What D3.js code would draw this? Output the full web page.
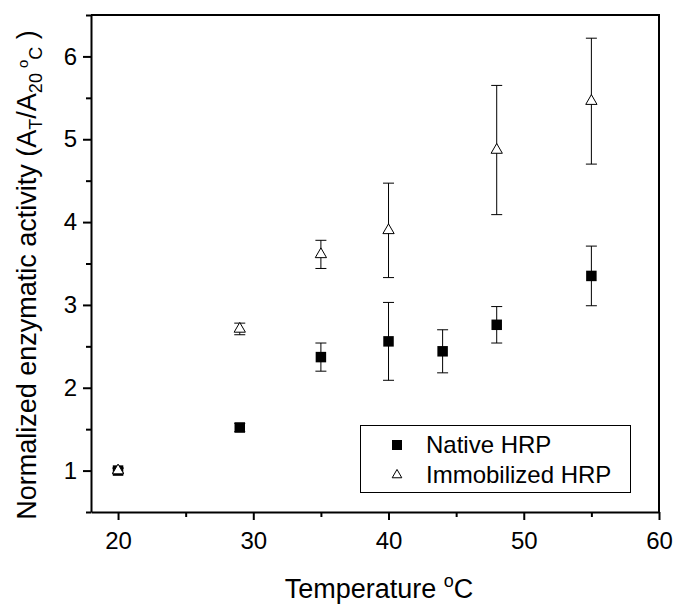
<!DOCTYPE html>
<html>
<head>
<meta charset="utf-8">
<script src="https://cdn.jsdelivr.net/npm/d3@7"></script>
<style>
  body { margin: 0; background: #fff; }
  svg text { font-family: Arial, "Liberation Sans", sans-serif; fill: #000; }
</style>
</head>
<body>
<div id="chart"></div>
<script>
// data
const nativeTemp = [20, 29, 35, 40, 44, 48, 55];
const nativeValue = [1.0, 1.52, 2.37, 2.56, 2.44, 2.76, 3.35];
const nativeErr = [0.03, 0.05, 0.17, 0.47, 0.26, 0.22, 0.36];

const immobTemp = [20, 29, 35, 40, 48, 55];
const immobValue = [1.0, 2.71, 3.61, 3.9, 4.87, 5.46];
const immobErr = [0.03, 0.07, 0.17, 0.57, 0.78, 0.76];

const xTicks = [20, 30, 40, 50, 60];
const xMinorTicks = [25, 35, 45, 55];
const yTicks = [1, 2, 3, 4, 5, 6];
const yMinorTicks = [0.5, 1.5, 2.5, 3.5, 4.5, 5.5, 6.5];

const width = 675, height = 606;
const margin = { left: 91, right: 16, top: 15, bottom: 94 };

const svg = d3.select("#chart").append("svg")
  .attr("width", width)
  .attr("height", height);

const x = d3.scaleLinear().domain([18, 60]).range([margin.left, width - margin.right]);
const y = d3.scaleLinear().domain([0.5, 6.5]).range([height - margin.bottom, margin.top]);

const x0 = x.range()[0], x1 = x.range()[1];
const y0 = y.range()[0], y1 = y.range()[1];

// top and right frame
svg.append("path")
  .attr("d", `M${x0},${y1}H${x1}V${y0}`)
  .attr("fill", "none")
  .attr("stroke", "#000")
  .attr("stroke-width", 2);

// x axis
const xAxisMinor = d3.axisBottom(x).tickValues(xMinorTicks).tickSize(5).tickSizeOuter(0).tickFormat("");
const xAxis = d3.axisBottom(x).tickValues(xTicks).tickSize(8).tickSizeOuter(0).tickPadding(12)
  .tickFormat(d3.format("d"));

svg.append("g")
  .attr("transform", `translate(0,${y0})`)
  .call(xAxisMinor)
  .call(g => g.select(".domain").remove())
  .selectAll("line").attr("stroke-width", 2);

svg.append("g")
  .attr("class", "xAxis")
  .attr("transform", `translate(0,${y0})`)
  .call(xAxis)
  .call(g => g.select(".domain").attr("stroke-width", 2))
  .call(g => g.selectAll("line").attr("stroke-width", 2))
  .selectAll("text")
  .attr("font-size", "24px")
  .attr("font-family", "Arial, 'Liberation Sans', sans-serif");

// y axis
const yAxisMinor = d3.axisLeft(y).tickValues(yMinorTicks).tickSize(5).tickSizeOuter(0).tickFormat("");
const yAxis = d3.axisLeft(y).tickValues(yTicks).tickSize(8).tickSizeOuter(0).tickPadding(6)
  .tickFormat(d3.format("d"));

svg.append("g")
  .attr("transform", `translate(${x0},0)`)
  .call(yAxisMinor)
  .call(g => g.select(".domain").remove())
  .selectAll("line").attr("stroke-width", 2);

svg.append("g")
  .attr("class", "yAxis")
  .attr("transform", `translate(${x0},0)`)
  .call(yAxis)
  .call(g => g.select(".domain").attr("stroke-width", 2))
  .call(g => g.selectAll("line").attr("stroke-width", 2))
  .selectAll("text")
  .attr("font-size", "24px")
  .attr("font-family", "Arial, 'Liberation Sans', sans-serif");

// axis titles
const xTitle = svg.append("text")
  .attr("x", 379)
  .attr("y", 598)
  .attr("text-anchor", "middle")
  .attr("font-size", "27px");
xTitle.append("tspan").text("Temperature ");
xTitle.append("tspan").attr("font-size", "18px").attr("dy", -11).text("o");
xTitle.append("tspan").attr("dy", 11).text("C");

const yTitle = svg.append("text")
  .attr("transform", "translate(36,275) rotate(-90)")
  .attr("text-anchor", "middle")
  .attr("font-size", "27px");
yTitle.append("tspan").text("Normalized enzymatic activity (A");
yTitle.append("tspan").attr("font-size", "18px").attr("dy", 6).text("T");
yTitle.append("tspan").attr("dy", -6).text("/A");
yTitle.append("tspan").attr("font-size", "18px").attr("dy", 6).text("20 ");
yTitle.append("tspan").attr("font-size", "15px").attr("dy", -14).text("o");
yTitle.append("tspan").attr("font-size", "18px").attr("dy", 14).text("C");
yTitle.append("tspan").attr("dy", -6).text(" )");

// error bars
function drawErrors(temps, values, errs) {
  const g = svg.append("g").attr("stroke", "#000").attr("stroke-width", 1);
  temps.forEach((t, i) => {
    const cx = x(t);
    const top = y(values[i] + errs[i]);
    const bot = y(values[i] - errs[i]);
    g.append("line").attr("x1", cx).attr("x2", cx).attr("y1", top).attr("y2", bot);
    g.append("line").attr("x1", cx - 5.5).attr("x2", cx + 5.5).attr("y1", top).attr("y2", top);
    g.append("line").attr("x1", cx - 5.5).attr("x2", cx + 5.5).attr("y1", bot).attr("y2", bot);
  });
}

drawErrors(nativeTemp, nativeValue, nativeErr);
drawErrors(immobTemp, immobValue, immobErr);

// markers
const squareSym = d3.symbol().type(d3.symbolSquare).size(110);
const triSym = d3.symbol().type(d3.symbolTriangle).size(55);

svg.append("g").selectAll("path")
  .data(nativeTemp)
  .enter()
  .append("path")
  .attr("d", squareSym)
  .attr("transform", (d, i) => `translate(${x(d)},${y(nativeValue[i])})`)
  .attr("fill", "#000");

svg.append("g").selectAll("path")
  .data(immobTemp)
  .enter()
  .append("path")
  .attr("d", triSym)
  .attr("transform", (d, i) => `translate(${x(d)},${y(immobValue[i])})`)
  .attr("fill", "#fff")
  .attr("stroke", "#000")
  .attr("stroke-width", 1);

// legend
const legend = svg.append("g");
legend.append("rect")
  .attr("x", 360.5).attr("y", 425.5)
  .attr("width", 270).attr("height", 67)
  .attr("fill", "#fff")
  .attr("stroke", "#000")
  .attr("stroke-width", 1);
legend.append("path")
  .attr("d", d3.symbol().type(d3.symbolSquare).size(100))
  .attr("transform", "translate(397,445)")
  .attr("fill", "#000");
legend.append("path")
  .attr("d", d3.symbol().type(d3.symbolTriangle).size(40))
  .attr("transform", "translate(397,475)")
  .attr("fill", "#fff")
  .attr("stroke", "#000");
legend.append("text").attr("x", 426).attr("y", 453).attr("font-size", "24px").text("Native HRP");
legend.append("text").attr("x", 426).attr("y", 483).attr("font-size", "24px").text("Immobilized HRP");
</script>
</body>
</html>
